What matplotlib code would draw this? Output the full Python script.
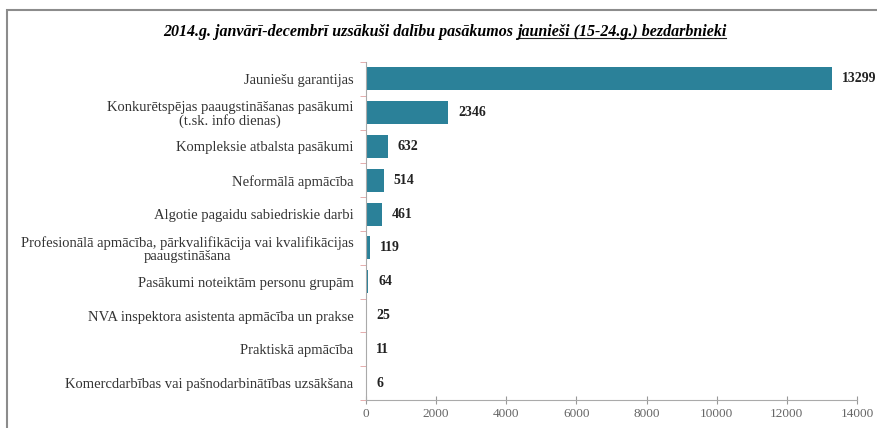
import matplotlib
matplotlib.use("Agg")
import matplotlib.pyplot as plt
from matplotlib.patches import Rectangle
from matplotlib.lines import Line2D

plt.rcParams['font.family'] = ['Liberation Serif', 'DejaVu Serif']

# data
categories = ["Jauniešu garantijas",
              "Konkurētspējas paaugstināšanas pasākumi\n(t.sk. info dienas)",
              "Kompleksie atbalsta pasākumi",
              "Neformālā apmācība",
              "Algotie pagaidu sabiedriskie darbi",
              "Profesionālā apmācība, pārkvalifikācija vai kvalifikācijas\npaaugstināšana",
              "Pasākumi noteiktām personu grupām",
              "NVA inspektora asistenta apmācība un prakse",
              "Praktiskā apmācība",
              "Komercdarbības vai pašnodarbinātības uzsākšana"]
values = [13299, 2346, 632, 514, 461, 119, 64, 25, 11, 6]
xticks = [0, 2000, 4000, 6000, 8000, 10000, 12000, 14000]

fig = plt.figure(figsize=(8.78, 4.28), dpi=100)
ax = fig.add_axes([366/878, 1-400/428, 491/878, 338/428])

pos = list(range(len(categories)))
ax.barh(pos, values, height=0.68, color="#2b8199")
ax.set_ylim(len(categories)-0.5, -0.5)
ax.set_xlim(0, 14000)

for p, v in zip(pos, values):
    ax.text(v + 280, p, str(v), va="center", ha="left", fontsize=10,
            fontweight="bold", color="#222222", clip_on=False)

ax.set_yticks(pos)
ax.set_yticklabels(categories, fontsize=10.5, color="#333333", multialignment="center",
                   linespacing=1.05)
ax.tick_params(axis="y", length=0, pad=9)
# small ticks between categories
ax.set_yticks([p + 0.5 for p in [-1] + pos], minor=True)
ax.tick_params(axis="y", which="minor", length=4, color="#e0a0a0", direction="out")

ax.set_xticks(xticks)
ax.set_xticklabels([str(t) for t in xticks], fontsize=9.5, color="#666666")
ax.tick_params(axis="x", length=6, direction="inout", color="#999999", pad=3)

for s in ["top", "right"]:
    ax.spines[s].set_visible(False)
ax.spines["left"].set_color("#aaaaaa")
ax.spines["bottom"].set_color("#aaaaaa")

# title, second part underlined
t1 = fig.text(163/878, 1-32/428, "2014.g. janvārī-decembrī uzsākuši dalību pasākumos ",
              fontsize=11.5, fontweight="bold", style="italic", va="center", ha="left")
fig.canvas.draw()
r = fig.canvas.get_renderer()
bb = t1.get_window_extent(r)
t2 = fig.text(bb.x1/878, 1-32/428, "jaunieši (15-24.g.) bezdarbnieki",
              fontsize=11.5, fontweight="bold", style="italic", va="center", ha="left")
bb2 = t2.get_window_extent(r)
fig.add_artist(Line2D([bb2.x0/878, bb2.x1/878], [(bb2.y0+2)/428]*2,
                      color="#222222", lw=0.8))

# outer frame
fig.add_artist(Rectangle((7/878, -0.1), 1.1, 1-10/428+0.1, transform=fig.transFigure,
                         fill=False, edgecolor="#8c8c8c", lw=1.5))

fig.savefig("out.png", dpi=100)
